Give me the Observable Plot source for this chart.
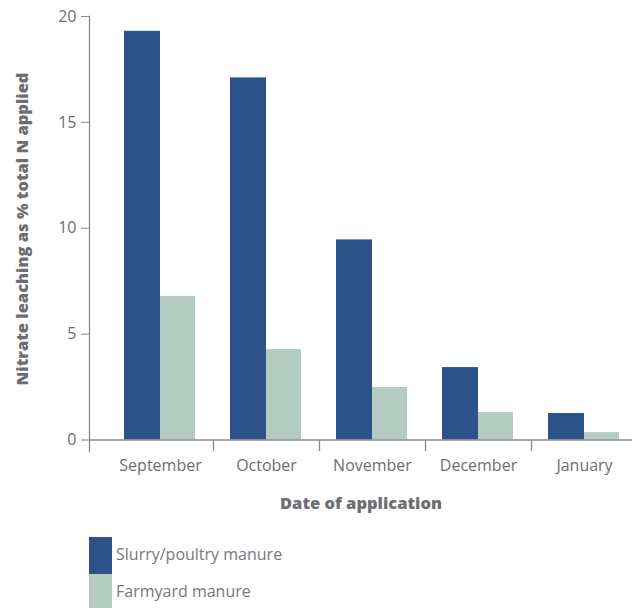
<!DOCTYPE html>
<html>
<head>
<meta charset="utf-8">
<script src="https://cdn.jsdelivr.net/npm/d3@7"></script>
<script src="https://cdn.jsdelivr.net/npm/@observablehq/plot@0.6"></script>
<style>
  body { margin: 0; background: #fff; font-family: "Open Sans", sans-serif; }
  #chart svg { display: block; }
  .legend { margin: 12px 0 0 89px; }
  .legend .row { display: flex; align-items: center; height: 37px; }
  .legend .sw { width: 23px; height: 37px; margin-right: 4px; }
  .legend .lab { font-size: 16px; color: #77787b; font-weight: 400; position: relative; top: -2px; }
</style>
</head>
<body>
<div id="chart"></div>
<div class="legend" id="legend"></div>
<script>
const months = ["September", "October", "November", "December", "January"];
const slurry = [19.3, 17.1, 9.45, 3.42, 1.25];
const farmyard = [6.78, 4.27, 2.48, 1.3, 0.35];
const seriesNames = ["Slurry/poultry manure", "Farmyard manure"];
const seriesColors = ["#2d5189", "#b4cbc2"];
const yTicks = [0, 5, 10, 15, 20];

const slurryData = months.map((m, i) => ({month: m, value: slurry[i]}));
const farmData = months.map((m, i) => ({month: m, value: farmyard[i]}));
const textColor = "#6d6e71";
const axisColor = "#8a8a8a";

const plot = Plot.plot({
  width: 632,
  height: 525,
  marginLeft: 89,
  marginRight: 0,
  marginTop: 16,
  marginBottom: 74,
  style: {fontFamily: "'Open Sans', sans-serif", fontSize: "16px", color: textColor, background: "#fff"},
  x: {domain: months, range: [107, 637], padding: 0},
  y: {domain: [0, 20], range: [439.5, 16]},
  marks: [
    Plot.barY(slurryData, {x: "month", y: "value", fill: seriesColors[0], insetLeft: 17, insetRight: 53}),
    Plot.barY(farmData, {x: "month", y: "value", fill: seriesColors[1], insetLeft: 53, insetRight: 18}),
    Plot.frame({anchor: "left", stroke: axisColor, strokeWidth: 1.3}),
    Plot.ruleY([0], {stroke: axisColor, strokeWidth: 1.3}),
    Plot.ruleX(months.slice(1), {x: d => d, y1: 0, y2: -0.54, dx: -53, stroke: axisColor, strokeWidth: 1.3}),
    Plot.axisY({ticks: yTicks, tickSize: 8, tickPadding: 5, label: null, stroke: axisColor, fill: textColor, fontSize: 16}),
    Plot.axisX({tickSize: 0, tickPadding: 8, label: null, fill: textColor, fontSize: 16}),
    Plot.text(["Date of application"], {frameAnchor: "bottom", dy: 57, fontWeight: 800, fontSize: 16.5, fill: textColor}),
    Plot.text(["Nitrate leaching as % total N applied"], {frameAnchor: "left", textAnchor: "middle", rotate: -90, dx: -67, dy: -5, fontWeight: 800, fontSize: 16.5, fill: textColor})
  ]
});
document.getElementById("chart").append(plot);

const legend = document.getElementById("legend");
seriesNames.forEach((n, i) => {
  const row = document.createElement("div");
  row.className = "row";
  row.innerHTML = `<div class="sw" style="background:${seriesColors[i]}"></div><div class="lab">${n}</div>`;
  legend.append(row);
});
</script>
</body>
</html>
